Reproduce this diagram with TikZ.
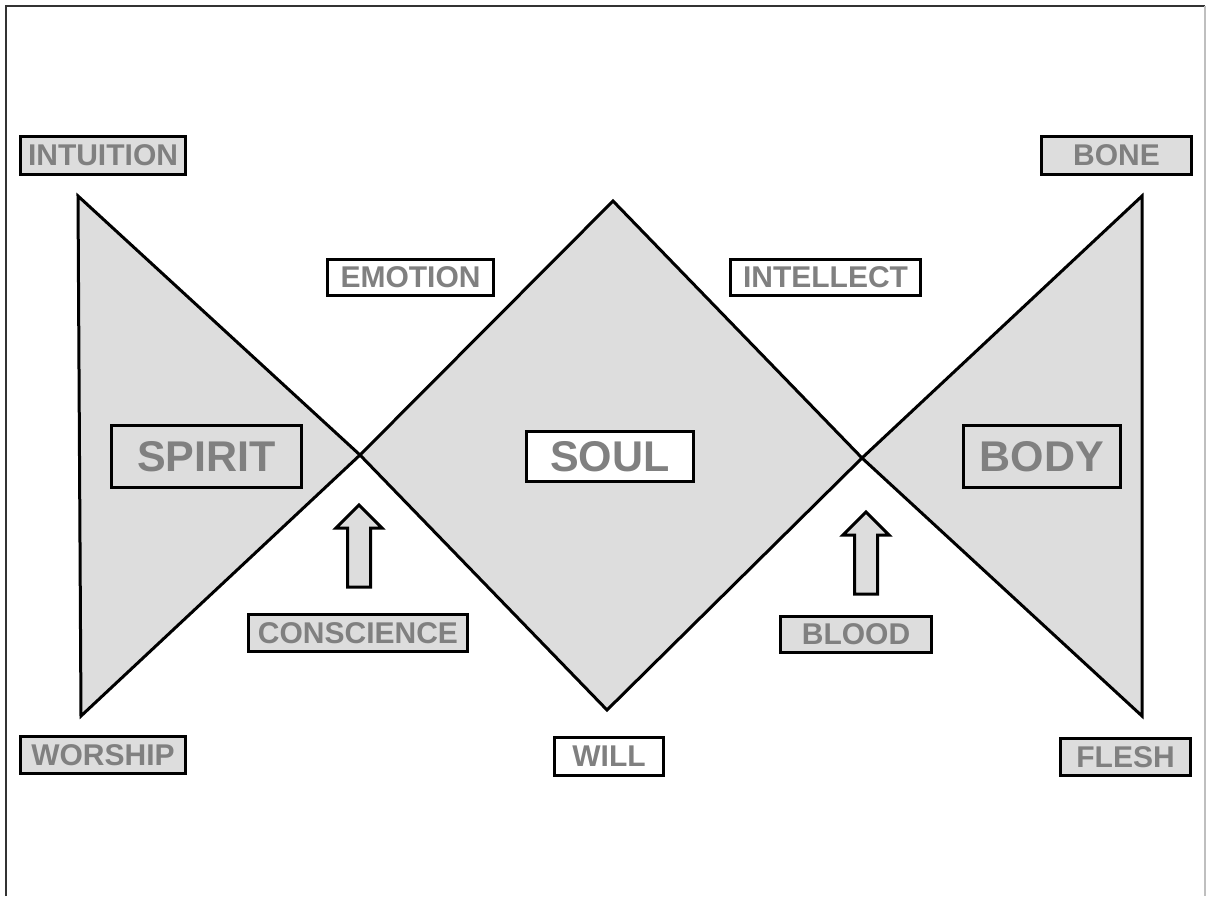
\documentclass[tikz,border=0pt]{standalone}
\usepackage{fontspec}
\setmainfont{Liberation Sans}
\definecolor{panel}{HTML}{DDDDDD}
\definecolor{labelgray}{HTML}{808080}

\newcommand*{\pw}{1206}
\newcommand*{\ph}{896}

\begin{document}
\begin{tikzpicture}
[
	x=1pt,y=-1pt,
	outline/.style={draw,line width=3pt,line join=miter},
	tagbox/.style={outline,inner sep=0pt,text=labelgray,font=\fontsize{30}{30}\selectfont\bfseries},
	namebox/.style={tagbox,font=\fontsize{43}{43}\selectfont\bfseries},
	grayed/.style={fill=panel},
	plain/.style={fill=white}
]
	\useasboundingbox (0,0) rectangle (\pw,\ph);

	% frame
	\draw[line width=2pt,black!80] (6,\ph) -- (6,6) -- (1205,6);
	\draw[line width=2pt,black!25] (1205,6) -- (1205,\ph);

	% shapes
	\coordinate (lt) at (78,196);
	\coordinate (lb) at (81,716);
	\coordinate (lx) at (360,455);
	\coordinate (rx) at (862,458);
	\coordinate (rt) at (1142,196);
	\coordinate (rb) at (1142,716);
	\coordinate (st) at (613,201);
	\coordinate (sb) at (607,710);
	\draw[outline,grayed] (lt) -- (lx) -- (lb) -- cycle;
	\draw[outline,grayed] (st) -- (rx) -- (sb) -- (lx) -- cycle;
	\draw[outline,grayed] (rt) -- (rx) -- (rb) -- cycle;

	% arrows
	\foreach \ax/\ay in {359/505, 866/512}
		\draw[outline,grayed] (\ax,\ay) -- ++(23,23) -- ++(-11.5,0) -- ++(0,59) -- ++(-23,0) -- ++(0,-59) -- ++(-11.5,0) -- cycle;

	% names
	\node[namebox,grayed,minimum width=190,minimum height=62] (spirit) at (206.5,456.5) {SPIRIT};
	\node[namebox,plain,minimum width=167,minimum height=50] (soul) at (610,456.5) {SOUL};
	\node[namebox,grayed,minimum width=157,minimum height=62] (body) at (1042,456.5) {BODY};

	% parts
	\node[tagbox,grayed,minimum width=165,minimum height=38] (intuition) at (103,155.5) {INTUITION};
	\node[tagbox,grayed,minimum width=150,minimum height=38] (bone) at (1116.5,155.5) {BONE};
	\node[tagbox,plain,minimum width=166,minimum height=36] (emotion) at (410.5,277.5) {EMOTION};
	\node[tagbox,plain,minimum width=190,minimum height=36] (intellect) at (825.5,277.5) {INTELLECT};
	\node[tagbox,grayed,minimum width=219,minimum height=37] (conscience) at (358,633) {CONSCIENCE};
	\node[tagbox,grayed,minimum width=151,minimum height=36] (blood) at (856,634.5) {BLOOD};
	\node[tagbox,grayed,minimum width=165,minimum height=37] (worship) at (103,755) {WORSHIP};
	\node[tagbox,plain,minimum width=109,minimum height=38] (will) at (609,756.5) {WILL};
	\node[tagbox,grayed,minimum width=130,minimum height=37] (flesh) at (1125.5,757) {FLESH};

\end{tikzpicture}
\end{document}
